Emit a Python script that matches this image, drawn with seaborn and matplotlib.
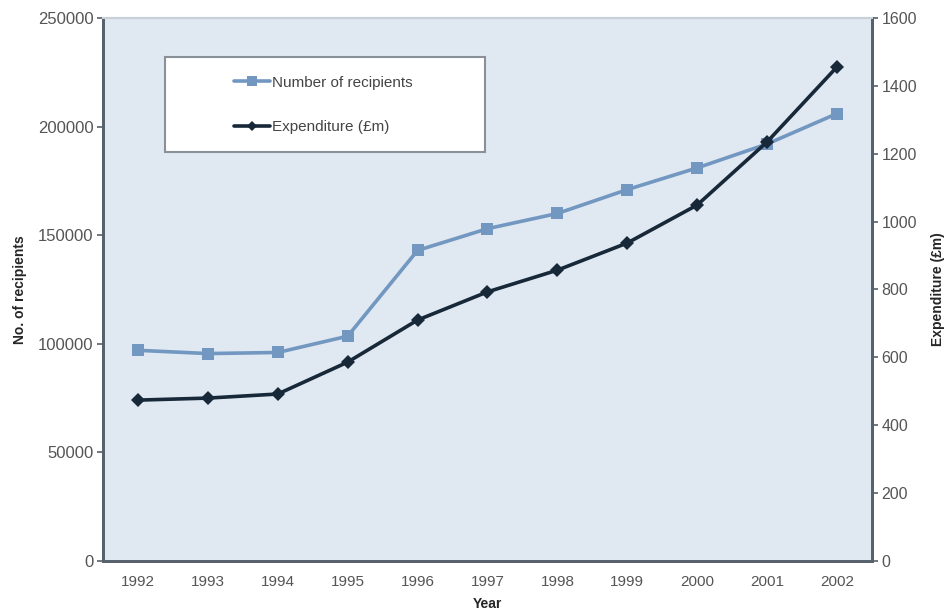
import matplotlib
matplotlib.use("Agg")
import matplotlib.pyplot as plt
from matplotlib.patches import Rectangle
import seaborn as sns
import pandas as pd
import numpy as np

# Annual figures
years = [1992, 1993, 1994, 1995, 1996, 1997, 1998, 1999, 2000, 2001, 2002]
recipients = [97000, 95500, 96000, 103500, 143000, 153000, 160000, 171000, 181000, 192000, 206000]
expenditure = [474, 480, 492, 586, 710, 793, 857, 937, 1049, 1235, 1456]

left_ticks = [0, 50000, 100000, 150000, 200000, 250000]
right_ticks = [0, 200, 400, 600, 800, 1000, 1200, 1400, 1600]

df = pd.DataFrame({"Year": years, "Recipients": recipients, "Expenditure": expenditure})

sns.set_theme(style="white")
plt.rcParams["font.family"] = ["Liberation Sans", "DejaVu Sans"]

light_blue = "#7297c0"
dark_navy = "#172838"
spine_col = "#56616c"
tick_col = "#555555"

fig = plt.figure(figsize=(9.5, 6.16), dpi=100)
ax = fig.add_axes([0.1084, 0.0893, 0.8095, 0.8815])
ax.set_facecolor("#e0e8f2")
ax2 = ax.twinx()

sns.lineplot(data=df, x="Year", y="Recipients", ax=ax, color=light_blue,
             linewidth=2.6, marker="s", markersize=9, markeredgewidth=0,
             label="Number of recipients", legend=False)
sns.lineplot(data=df, x="Year", y="Expenditure", ax=ax2, color=dark_navy,
             linewidth=2.6, marker="D", markersize=7, markeredgewidth=0,
             label="Expenditure (£m)", legend=False)

ax.set_xlim(years[0] - 0.5, years[-1] + 0.5)
ax.set_ylim(0, 250000)
ax2.set_ylim(0, 1600)

ax.set_xticks(years)
ax.set_xticklabels([str(y) for y in years])
ax.set_xticks(np.arange(years[0] - 0.5, years[-1] + 1.0, 1.0), minor=True)
ax.tick_params(axis="x", which="major", length=0, pad=10, labelsize=11, labelcolor=tick_col)
ax.tick_params(axis="x", which="minor", length=6, width=1.2, direction="inout", color=spine_col)
ax.set_yticks(left_ticks)
ax.set_yticklabels([str(v) for v in left_ticks])
ax.tick_params(axis="y", length=4, width=1.2, direction="out", left=True, color=spine_col,
               labelsize=12, labelcolor=tick_col, pad=3)
ax2.set_yticks(right_ticks)
ax2.set_yticklabels([str(v) for v in right_ticks])
ax2.tick_params(axis="y", length=4, width=1.2, direction="out", right=True, color=spine_col,
                labelsize=11.5, labelcolor=tick_col, pad=3)

for a in (ax, ax2):
    for side in ("left", "bottom", "right"):
        a.spines[side].set_color(spine_col)
        a.spines[side].set_linewidth(2.0)
    a.spines["top"].set_color("#c9d0d8")
    a.spines["top"].set_linewidth(1.5)
    a.grid(False)

ax.set_xlabel("Year", fontsize=10, fontweight="bold", labelpad=6)
ax.set_ylabel("No. of recipients", fontsize=10, fontweight="bold", labelpad=8)
ax2.set_ylabel("Expenditure (£m)", fontsize=10, fontweight="bold", labelpad=10)

# Legend box
ax2.add_patch(Rectangle((0.081, 0.753), 0.416, 0.175, transform=ax2.transAxes,
                        facecolor="white", edgecolor="#8a9098", linewidth=1.5, zorder=3))
handles = ax.get_lines()[:1] + ax2.get_lines()[:1]
leg = ax2.legend(handles, ["Number of recipients", "Expenditure (£m)"],
                 loc="center", bbox_to_anchor=(0.286, 0.84), frameon=False,
                 fontsize=11, labelspacing=2.0, handlelength=2.4, handletextpad=0.1,
                 markerscale=0.8)
leg.set_zorder(4)
for t in leg.get_texts():
    t.set_color("#444444")

fig.savefig("out.png", dpi=100, facecolor="white")
